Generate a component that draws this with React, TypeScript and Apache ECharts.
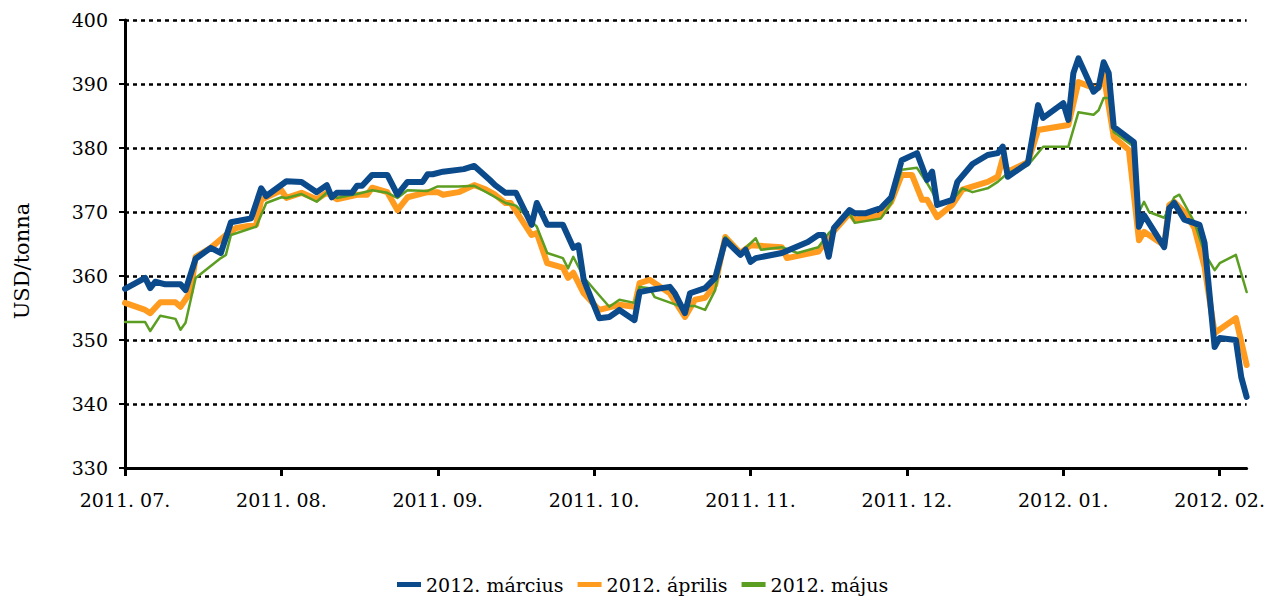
import React, { useEffect, useRef } from "react";
import * as echarts from "echarts";

const marcius: [string, number][] = [
  ["2011-07-01", 358.0], ["2011-07-05", 359.7], ["2011-07-06", 358.1], ["2011-07-07", 359.1], ["2011-07-09", 358.7],
  ["2011-07-12", 358.7], ["2011-07-13", 357.8], ["2011-07-15", 362.7], ["2011-07-18", 364.4], ["2011-07-20", 363.6],
  ["2011-07-22", 368.4], ["2011-07-26", 369.0], ["2011-07-28", 373.7], ["2011-07-29", 372.5], ["2011-08-02", 374.8],
  ["2011-08-05", 374.7], ["2011-08-08", 373.1], ["2011-08-10", 374.2], ["2011-08-11", 372.3], ["2011-08-12", 373.0],
  ["2011-08-15", 373.0], ["2011-08-16", 374.1], ["2011-08-17", 374.1], ["2011-08-19", 375.8], ["2011-08-22", 375.8],
  ["2011-08-24", 372.7], ["2011-08-26", 374.7], ["2011-08-29", 374.7], ["2011-08-30", 375.9], ["2011-08-31", 375.9],
  ["2011-09-02", 376.3], ["2011-09-06", 376.7], ["2011-09-08", 377.2], ["2011-09-11", 375.0], ["2011-09-12", 374.2],
  ["2011-09-14", 373.0], ["2011-09-16", 373.0], ["2011-09-19", 368.0], ["2011-09-20", 371.4], ["2011-09-22", 368.0],
  ["2011-09-25", 368.0], ["2011-09-27", 364.4], ["2011-09-28", 364.8], ["2011-09-29", 359.4], ["2011-10-02", 353.4],
  ["2011-10-04", 353.6], ["2011-10-06", 354.7], ["2011-10-09", 353.1], ["2011-10-10", 357.5], ["2011-10-12", 357.8],
  ["2011-10-16", 358.3], ["2011-10-17", 357.3], ["2011-10-19", 354.2], ["2011-10-20", 357.3], ["2011-10-23", 358.1],
  ["2011-10-25", 359.7], ["2011-10-27", 365.6], ["2011-10-30", 363.3], ["2011-10-31", 364.1], ["2011-11-01", 362.2],
  ["2011-11-02", 362.8], ["2011-11-07", 363.6], ["2011-11-12", 365.3], ["2011-11-14", 366.4], ["2011-11-15", 366.4],
  ["2011-11-16", 363.0], ["2011-11-17", 367.5], ["2011-11-20", 370.3], ["2011-11-21", 369.8], ["2011-11-23", 369.8],
  ["2011-11-26", 370.6], ["2011-11-28", 372.3], ["2011-11-30", 378.1], ["2011-12-03", 379.2], ["2011-12-05", 375.0],
  ["2011-12-06", 376.3], ["2011-12-07", 371.1], ["2011-12-10", 371.9], ["2011-12-11", 374.7], ["2011-12-14", 377.5],
  ["2011-12-17", 378.9], ["2011-12-19", 379.2], ["2011-12-20", 380.2], ["2011-12-21", 375.5], ["2011-12-25", 377.7],
  ["2011-12-27", 386.7], ["2011-12-28", 384.7], ["2012-01-01", 387.0], ["2012-01-02", 384.4], ["2012-01-03", 391.7],
  ["2012-01-04", 394.0], ["2012-01-07", 388.8], ["2012-01-08", 389.5], ["2012-01-09", 393.4], ["2012-01-10", 391.7],
  ["2012-01-11", 383.3], ["2012-01-15", 380.9], ["2012-01-16", 367.7], ["2012-01-17", 369.5], ["2012-01-21", 364.5],
  ["2012-01-22", 370.6], ["2012-01-23", 371.4], ["2012-01-25", 368.8], ["2012-01-28", 368.0], ["2012-01-29", 365.2],
  ["2012-01-31", 348.9], ["2012-02-01", 350.3], ["2012-02-04", 350.0], ["2012-02-05", 344.2], ["2012-02-06", 341.1],
];

const aprilis: [string, number][] = [
  ["2011-07-01", 355.8], ["2011-07-05", 354.7], ["2011-07-06", 354.2], ["2011-07-08", 355.9], ["2011-07-11", 355.9],
  ["2011-07-12", 355.2], ["2011-07-14", 357.5], ["2011-07-15", 363.0], ["2011-07-18", 364.4], ["2011-07-21", 366.4],
  ["2011-07-23", 367.5], ["2011-07-27", 368.0], ["2011-07-28", 371.9], ["2011-08-01", 373.4], ["2011-08-02", 372.2],
  ["2011-08-05", 373.0], ["2011-08-08", 372.0], ["2011-08-10", 373.0], ["2011-08-12", 372.0], ["2011-08-16", 372.7],
  ["2011-08-18", 372.7], ["2011-08-19", 373.8], ["2011-08-22", 373.1], ["2011-08-24", 370.3], ["2011-08-26", 372.3],
  ["2011-08-30", 373.1], ["2011-09-01", 373.1], ["2011-09-02", 372.7], ["2011-09-05", 373.1], ["2011-09-08", 374.2],
  ["2011-09-10", 373.6], ["2011-09-12", 372.7], ["2011-09-14", 371.4], ["2011-09-15", 371.4], ["2011-09-19", 366.4],
  ["2011-09-20", 366.7], ["2011-09-22", 362.0], ["2011-09-25", 361.3], ["2011-09-26", 359.7], ["2011-09-27", 360.5],
  ["2011-09-29", 357.3], ["2011-10-02", 354.7], ["2011-10-06", 355.5], ["2011-10-09", 355.2], ["2011-10-10", 358.9],
  ["2011-10-12", 359.4], ["2011-10-16", 357.3], ["2011-10-19", 353.6], ["2011-10-21", 356.3], ["2011-10-23", 356.6],
  ["2011-10-25", 358.6], ["2011-10-27", 366.1], ["2011-10-30", 363.6], ["2011-11-01", 364.8], ["2011-11-07", 364.5],
  ["2011-11-08", 362.8], ["2011-11-14", 363.8], ["2011-11-16", 366.1], ["2011-11-20", 369.8], ["2011-11-21", 368.8],
  ["2011-11-26", 369.5], ["2011-11-28", 371.6], ["2011-11-30", 375.8], ["2011-12-02", 375.8], ["2011-12-04", 371.9],
  ["2011-12-05", 371.9], ["2011-12-07", 369.2], ["2011-12-10", 371.1], ["2011-12-12", 373.5], ["2011-12-17", 374.7],
  ["2011-12-19", 375.5], ["2011-12-20", 378.4], ["2011-12-21", 376.3], ["2011-12-25", 377.8], ["2011-12-27", 382.8],
  ["2012-01-02", 383.6], ["2012-01-04", 390.3], ["2012-01-07", 389.4], ["2012-01-08", 389.4], ["2012-01-09", 391.4],
  ["2012-01-11", 381.7], ["2012-01-14", 379.7], ["2012-01-16", 365.6], ["2012-01-17", 366.9], ["2012-01-21", 364.8],
  ["2012-01-22", 371.1], ["2012-01-23", 371.6], ["2012-01-25", 370.0], ["2012-01-27", 367.5], ["2012-01-29", 361.4],
  ["2012-01-31", 351.1], ["2012-02-04", 353.4], ["2012-02-06", 346.1],
];

const majus: [string, number][] = [
  ["2011-07-01", 352.8], ["2011-07-05", 352.8], ["2011-07-06", 351.4], ["2011-07-08", 353.8], ["2011-07-11", 353.3],
  ["2011-07-12", 351.6], ["2011-07-13", 352.7], ["2011-07-15", 359.7], ["2011-07-20", 362.8], ["2011-07-21", 363.3],
  ["2011-07-22", 366.4], ["2011-07-27", 367.7], ["2011-07-29", 371.4], ["2011-08-01", 372.3], ["2011-08-02", 372.2],
  ["2011-08-05", 372.8], ["2011-08-08", 371.6], ["2011-08-10", 373.0], ["2011-08-12", 372.2], ["2011-08-16", 372.8],
  ["2011-08-19", 373.4], ["2011-08-22", 373.0], ["2011-08-24", 372.2], ["2011-08-26", 373.4], ["2011-08-30", 373.3],
  ["2011-09-01", 374.0], ["2011-09-05", 374.0], ["2011-09-08", 374.1], ["2011-09-11", 372.8], ["2011-09-14", 371.4],
  ["2011-09-16", 371.0], ["2011-09-20", 367.7], ["2011-09-22", 363.6], ["2011-09-25", 362.8], ["2011-09-26", 361.2],
  ["2011-09-27", 363.0], ["2011-09-29", 359.8], ["2011-10-02", 357.0], ["2011-10-04", 355.2], ["2011-10-06", 356.3],
  ["2011-10-09", 355.8], ["2011-10-10", 358.3], ["2011-10-12", 358.1], ["2011-10-13", 356.7], ["2011-10-18", 355.3],
  ["2011-10-21", 355.3], ["2011-10-23", 354.7], ["2011-10-25", 357.8], ["2011-10-27", 366.1], ["2011-10-30", 363.6],
  ["2011-11-02", 365.9], ["2011-11-03", 364.1], ["2011-11-07", 364.5], ["2011-11-10", 363.6], ["2011-11-14", 364.5],
  ["2011-11-16", 366.7], ["2011-11-20", 369.8], ["2011-11-21", 368.3], ["2011-11-26", 369.0], ["2011-11-28", 371.4],
  ["2011-11-30", 376.6], ["2011-12-03", 376.9], ["2011-12-05", 374.5], ["2011-12-06", 373.2], ["2011-12-07", 371.4],
  ["2011-12-10", 371.9], ["2011-12-12", 373.7], ["2011-12-14", 373.1], ["2011-12-17", 373.7], ["2011-12-19", 374.7],
  ["2011-12-21", 376.1], ["2011-12-25", 377.3], ["2011-12-28", 380.2], ["2012-01-02", 380.2], ["2012-01-04", 385.6],
  ["2012-01-07", 385.2], ["2012-01-08", 385.9], ["2012-01-09", 387.8], ["2012-01-10", 387.8], ["2012-01-11", 382.5],
  ["2012-01-15", 380.2], ["2012-01-16", 370.0], ["2012-01-17", 371.6], ["2012-01-18", 370.0], ["2012-01-21", 369.1],
  ["2012-01-23", 372.3], ["2012-01-24", 372.7], ["2012-01-27", 368.4], ["2012-01-29", 363.6], ["2012-01-31", 360.9],
  ["2012-02-01", 362.0], ["2012-02-04", 363.3], ["2012-02-06", 357.5],
];

const seriesNames = ["2012. március", "2012. április", "2012. május"];
const seriesColors = ["#0b4a8b", "#ff9b1e", "#5c9e22"];
const monthTicks = [0, 1, 2, 3, 4, 5, 6, 7];
const monthLabels = ["2011. 07.", "2011. 08.", "2011. 09.", "2011. 10.", "2011. 11.", "2011. 12.", "2012. 01.", "2012. 02."];
const yAxisTitle = "USD/tonna";

const FONT = '"DejaVu Serif", serif';

function monthPos(d: string): number {
  const [y, m, day] = d.split("-").map(Number);
  const dim = new Date(y, m, 0).getDate();
  return (y - 2011) * 12 + (m - 7) + (day - 1) / dim;
}

function toXY(arr: [string, number][]) {
  return arr.map(([d, v]) => [monthPos(d), v]);
}

export default function App() {
  const ref = useRef<HTMLDivElement>(null);
  useEffect(() => {
    if (!ref.current) return;
    const chart = echarts.init(ref.current, undefined, { renderer: "svg" });
    const lastPos = monthPos(marcius[marcius.length - 1][0]);
    const datasets = [marcius, aprilis, majus];
    const widths = [6, 6, 2.5];
    const zs = [4, 2, 3];
    chart.setOption({
      animation: false,
      backgroundColor: "#fff",
      grid: { left: 125, right: 19, top: 20, bottom: 130, containLabel: false },
      xAxis: {
        type: "value",
        min: 0,
        max: lastPos,
        interval: 1,
        axisLine: { show: true, onZero: false, lineStyle: { color: "#000", width: 3 } },
        axisTick: { show: true, length: 8, customValues: monthTicks, lineStyle: { color: "#000", width: 3 } },
        axisLabel: {
          customValues: monthTicks,
          formatter: (v: number) => monthLabels[Math.round(v)] ?? "",
          fontFamily: FONT,
          fontSize: 19,
          color: "#000",
          margin: 22,
        },
        splitLine: { show: false },
      },
      yAxis: {
        type: "value",
        min: 330,
        max: 400,
        interval: 10,
        axisLine: { show: true, lineStyle: { color: "#000", width: 3 } },
        axisTick: { show: true, length: 6, lineStyle: { color: "#000", width: 2 } },
        axisLabel: { fontFamily: FONT, fontSize: 19, color: "#000", margin: 17 },
        splitLine: { show: true, lineStyle: { color: "#000", width: 2.5, type: [4, 4] } },
      },
      legend: {
        left: 392,
        top: 570,
        icon: "rect",
        itemWidth: 24,
        itemHeight: 5,
        itemGap: 14,
        textStyle: { fontFamily: FONT, fontSize: 19, color: "#000" },
        data: seriesNames,
      },
      graphic: [
        {
          type: "text",
          x: 22,
          y: 261,
          rotation: Math.PI / 2,
          style: {
            text: yAxisTitle,
            font: '21px "DejaVu Serif", serif',
            fill: "#000",
            align: "center",
            verticalAlign: "middle",
          },
        },
      ],
      series: datasets.map((d, i) => ({
        name: seriesNames[i],
        type: "line",
        data: toXY(d),
        showSymbol: false,
        symbol: "none",
        z: zs[i],
        color: seriesColors[i],
        lineStyle: { color: seriesColors[i], width: widths[i], join: "round", cap: "round" },
      })),
    });
    return () => chart.dispose();
  }, []);
  return <div ref={ref} style={{ position: "fixed", left: 0, top: 0, width: 1268, height: 598 }} />;
}
